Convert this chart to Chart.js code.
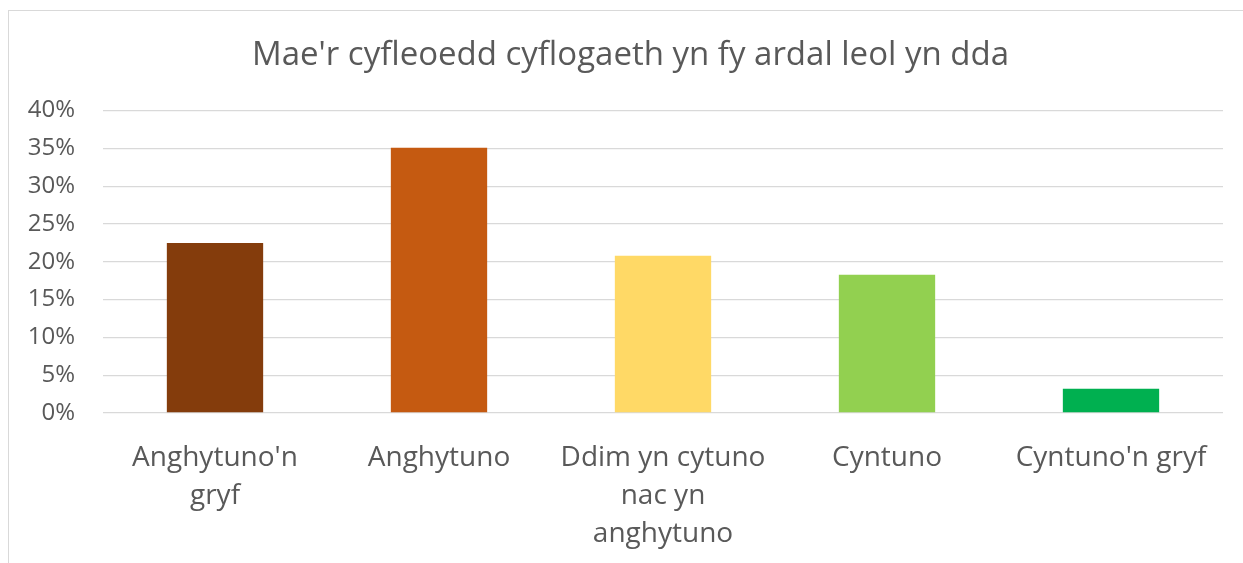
<!DOCTYPE html>
<html>
<head>
<meta charset="utf-8">
<script src="https://cdn.jsdelivr.net/npm/chart.js@4"></script>
<style>
  html, body { margin: 0; padding: 0; background: #fff; overflow: hidden; }
  #frame { position: absolute; left: 8px; top: 10px; width: 1300px; height: 600px; border: 1px solid #d9d9d9; }
  #wrap { position: absolute; left: 0; top: 0; width: 1243px; height: 563px; }
</style>
</head>
<body>
<div id="frame"></div>
<div id="wrap"><canvas id="surveyChart"></canvas></div>
<script>
// Chart data
const categories = [["Anghytuno'n", "gryf"], "Anghytuno", ["Ddim yn cytuno", "nac yn", "anghytuno"], "Cyntuno", "Cyntuno'n gryf"];
const percentValues = [22.5, 35.1, 20.8, 18.3, 3.2];
const barColors = ['#843C0C', '#C55A11', '#FFD966', '#92D050', '#00B050'];
const yTickLabels = ['0%', '5%', '10%', '15%', '20%', '25%', '30%', '35%', '40%'];

const textColor = '#595959';
const fontName = "'Open Sans', sans-serif";

// centre the title on the frame rather than on the canvas
const shiftTitle = {
  id: 'shiftTitle',
  afterLayout(chart) {
    if (chart.titleBlock) {
      chart.titleBlock.left = 38;
      chart.titleBlock.right = 1223;
    }
  }
};

const ctx = document.getElementById('surveyChart').getContext('2d');
const surveyChart = new Chart(ctx, {
  type: 'bar',
  data: {
    labels: categories,
    datasets: [{
      data: percentValues,
      backgroundColor: barColors,
      barPercentage: 0.43,
      categoryPercentage: 1
    }]
  },
  options: {
    responsive: true,
    maintainAspectRatio: false,
    animation: false,
    layout: { padding: { left: 0, right: 20, top: 0, bottom: 0 } },
    plugins: {
      legend: { display: false },
      tooltip: { enabled: false },
      title: {
        display: true,
        text: "Mae'r cyfleoedd cyflogaeth yn fy ardal leol yn dda",
        color: textColor,
        font: { family: fontName, size: 33, weight: 'normal', lineHeight: 1.2 },
        padding: { top: 36, bottom: 35 }
      }
    },
    scales: {
      x: {
        grid: { display: false },
        border: { display: false },
        ticks: {
          color: textColor,
          font: { family: fontName, size: 28, lineHeight: 1.36 },
          padding: 18,
          maxRotation: 0,
          autoSkip: false
        },
        afterFit: (scale) => { scale.height = 150; }
      },
      y: {
        min: 0,
        max: 40,
        grid: { color: '#d9d9d9', lineWidth: 1.3, drawTicks: false },
        border: { display: false },
        ticks: {
          stepSize: 5,
          color: textColor,
          font: { family: fontName, size: 24 },
          padding: 28,
          callback: (value, index) => yTickLabels[index]
        },
        afterFit: (scale) => { scale.width = 103; }
      }
    }
  },
  plugins: [shiftTitle]
});
</script>
</body>
</html>
